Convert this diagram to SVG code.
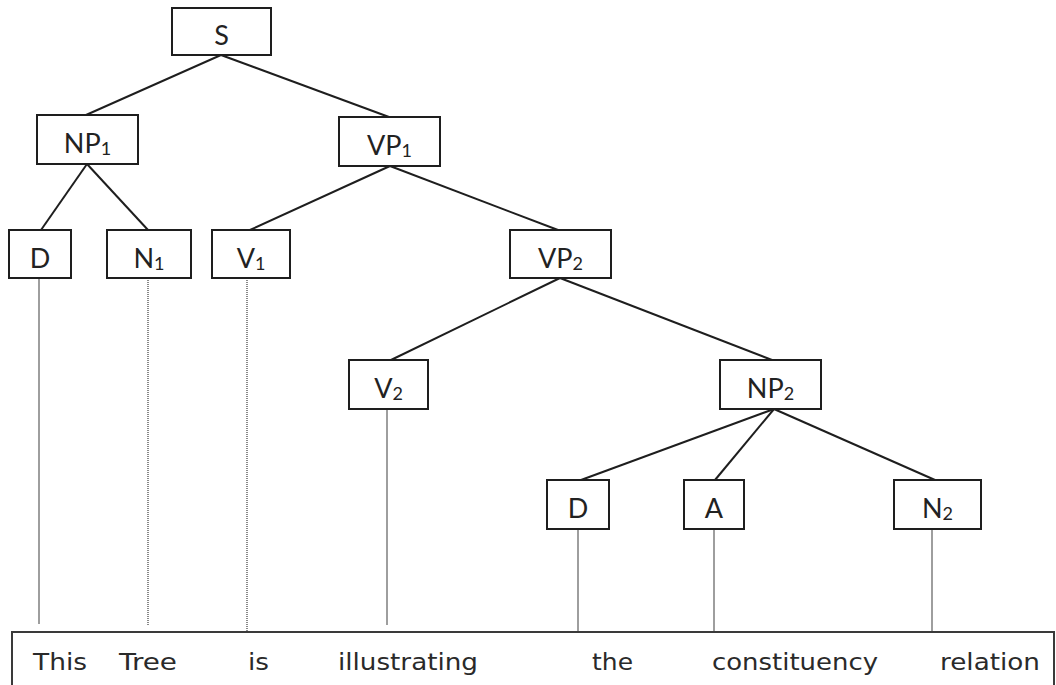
<svg xmlns="http://www.w3.org/2000/svg" width="1056" height="685" viewBox="0 0 1056 685">
  <style>
    .box { fill: #ffffff; stroke: #1e1e1e; stroke-width: 2; }
    .lbl { font-family: Lato, "Open Sans", "Liberation Sans", sans-serif; font-size: 27px; fill: #222; text-anchor: middle; }
    .sub { font-size: 18px; }
    .edge { stroke: #1e1e1e; stroke-width: 2; fill: none; }
    .leaf { stroke: #6a6a6a; stroke-width: 1.3; fill: none; }
    .dot { stroke: #4a4a4a; stroke-width: 1.3; stroke-dasharray: 1 1; fill: none; }
    .word { font-family: "DejaVu Sans", Verdana, sans-serif; font-size: 23px; fill: #2a2a2a; }
  </style>
  <rect width="1056" height="685" fill="#ffffff"/>

  <!-- tree edges and leaf lines -->
  <g id="connectors">
    <line class="edge" x1="221" y1="55" x2="86" y2="115"/>
    <line class="edge" x1="221" y1="55" x2="389" y2="117"/>
    <line class="edge" x1="87" y1="164" x2="41" y2="230"/>
    <line class="edge" x1="87" y1="164" x2="148" y2="230"/>
    <line class="edge" x1="390" y1="166" x2="250" y2="230"/>
    <line class="edge" x1="390" y1="166" x2="558" y2="230"/>
    <line class="edge" x1="560" y1="278" x2="391" y2="360"/>
    <line class="edge" x1="560" y1="278" x2="772" y2="360"/>
    <line class="edge" x1="774" y1="409" x2="581" y2="480"/>
    <line class="edge" x1="774" y1="409" x2="715" y2="480"/>
    <line class="edge" x1="774" y1="409" x2="935" y2="480"/>

    <line class="leaf" x1="39" y1="278" x2="39" y2="624"/>
    <line class="dot" x1="148" y1="278" x2="148" y2="625"/>
    <line class="dot" x1="247" y1="278" x2="247" y2="632"/>
    <line class="leaf" x1="387" y1="409" x2="387" y2="625"/>
    <line class="leaf" x1="578" y1="529" x2="578" y2="632"/>
    <line class="leaf" x1="714" y1="529" x2="714" y2="632"/>
    <line class="leaf" x1="932" y1="529" x2="932" y2="632"/>
  </g>

  <g id="S">
    <rect class="box" x="172" y="8" width="99" height="47"/>
    <text class="lbl" x="221.5" y="45">S</text>
  </g>
  <g id="NP1">
    <rect class="box" x="37" y="115" width="101" height="49"/>
    <text class="lbl" x="87.5" y="153">NP<tspan class="sub" dy="2">1</tspan></text>
  </g>
  <g id="VP1">
    <rect class="box" x="339" y="117" width="101" height="49"/>
    <text class="lbl" x="389.5" y="155">VP<tspan class="sub" dy="2">1</tspan></text>
  </g>
  <g id="D1">
    <rect class="box" x="9" y="230" width="62" height="48"/>
    <text class="lbl" x="40" y="268">D</text>
  </g>
  <g id="N1">
    <rect class="box" x="107" y="230" width="84" height="48"/>
    <text class="lbl" x="149" y="268">N<tspan class="sub" dy="2">1</tspan></text>
  </g>
  <g id="V1">
    <rect class="box" x="212" y="230" width="78" height="48"/>
    <text class="lbl" x="251" y="268">V<tspan class="sub" dy="2">1</tspan></text>
  </g>
  <g id="VP2">
    <rect class="box" x="510" y="230" width="101" height="48"/>
    <text class="lbl" x="560.5" y="268">VP<tspan class="sub" dy="2">2</tspan></text>
  </g>
  <g id="V2">
    <rect class="box" x="349" y="360" width="79" height="49"/>
    <text class="lbl" x="388.5" y="398">V<tspan class="sub" dy="2">2</tspan></text>
  </g>
  <g id="NP2">
    <rect class="box" x="720" y="360" width="101" height="49"/>
    <text class="lbl" x="770.5" y="398">NP<tspan class="sub" dy="2">2</tspan></text>
  </g>
  <g id="D2">
    <rect class="box" x="547" y="480" width="62" height="49"/>
    <text class="lbl" x="578" y="518">D</text>
  </g>
  <g id="A">
    <rect class="box" x="684" y="480" width="60" height="49"/>
    <text class="lbl" x="714" y="518">A</text>
  </g>
  <g id="N2">
    <rect class="box" x="894" y="480" width="87" height="49"/>
    <text class="lbl" x="937.5" y="518">N<tspan class="sub" dy="2">2</tspan></text>
  </g>

  <!-- sentence strip -->
  <g id="sentence">
    <rect x="12" y="632" width="1042" height="70" fill="none" stroke="#3a3a3a" stroke-width="2"/>
    <text class="word" x="33" y="670" textLength="54" lengthAdjust="spacingAndGlyphs">This</text>
    <text class="word" x="119" y="670" textLength="58" lengthAdjust="spacingAndGlyphs">Tree</text>
    <text class="word" x="248" y="670" textLength="21" lengthAdjust="spacingAndGlyphs">is</text>
    <text class="word" x="338" y="670" textLength="140" lengthAdjust="spacingAndGlyphs">illustrating</text>
    <text class="word" x="592" y="670" textLength="41" lengthAdjust="spacingAndGlyphs">the</text>
    <text class="word" x="712" y="670" textLength="166" lengthAdjust="spacingAndGlyphs">constituency</text>
    <text class="word" x="940" y="670" textLength="100" lengthAdjust="spacingAndGlyphs">relation</text>
  </g>
</svg>
